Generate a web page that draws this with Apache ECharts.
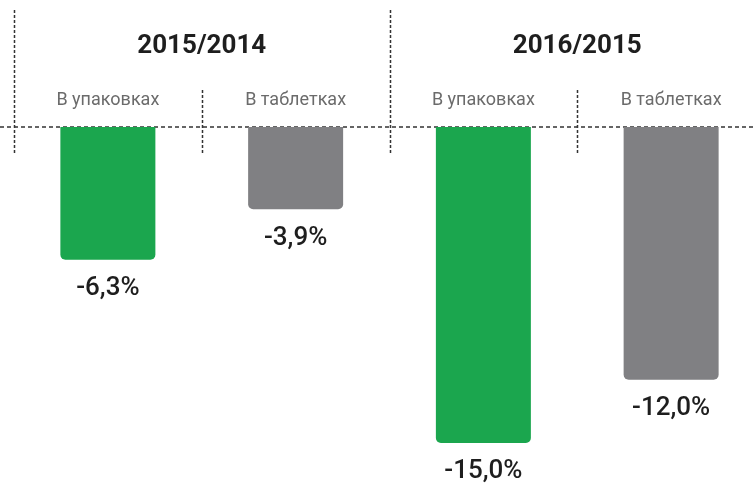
<!DOCTYPE html>
<html>
<head>
<meta charset="utf-8">
<script src="https://cdn.jsdelivr.net/npm/echarts@6/dist/echarts.min.js"></script>
<style>
  html, body { margin: 0; padding: 0; background: #fff; }
  #chart { width: 753px; height: 485px; }
</style>
</head>
<body>
<div id="chart"></div>
<script>
// данные
const periods = ['2015/2014', '2016/2015'];
const categories = ['В упаковках', 'В таблетках', 'В упаковках', 'В таблетках'];
const values = [-6.3, -3.9, -15.0, -12.0];
const barColors = ['#1ba64e', '#808083', '#1ba64e', '#808083'];

const chart = echarts.init(document.getElementById('chart'));

const options = {
  animation: false,
  grid: { left: 14, right: -12, top: 127, bottom: 21, outerBoundsMode: 'none' },
  xAxis: [
    {
      type: 'category',
      position: 'top',
      data: categories,
      axisLine: { show: false },
      axisTick: { show: false },
      axisLabel: {
        margin: 18,
        fontFamily: 'Roboto',
        fontSize: 18,
        color: '#6b6b6b'
      }
    },
    {
      type: 'category',
      position: 'top',
      offset: 68,
      data: periods,
      axisLine: { show: false },
      axisTick: { show: false },
      axisLabel: {
        margin: 0,
        fontFamily: 'Roboto',
        fontWeight: 'bold',
        fontSize: 26,
        color: '#1e1e1e'
      }
    }
  ],
  yAxis: {
    type: 'value',
    min: -16,
    max: 0,
    show: false
  },
  series: [
    {
      type: 'bar',
      barWidth: 95,
      data: values.map((v, i) => ({
        value: v,
        itemStyle: { color: barColors[i], borderRadius: [0, 0, 5, 5] }
      })),
      label: {
        show: true,
        position: 'bottom',
        distance: 16,
        fontFamily: 'Roboto',
        fontWeight: 500,
        fontSize: 26,
        color: '#1e1e1e',
        formatter: (p) => p.value.toFixed(1).replace('.', ',') + '%'
      }
    }
  ]
};

chart.setOption(options);

// пунктирные линии: нулевая линия и границы категорий
const y0 = chart.convertToPixel({ yAxisIndex: 0 }, 0);
const c0 = chart.convertToPixel({ xAxisIndex: 0 }, 0);
const c1 = chart.convertToPixel({ xAxisIndex: 0 }, 1);
const band = c1 - c0;
const lineStyle = { stroke: '#333', lineWidth: 1.5, lineDash: [3, 2] };
const graphics = [
  {
    type: 'line',
    shape: { x1: 0, y1: y0, x2: 753, y2: y0 },
    style: { stroke: '#333', lineWidth: 1.5, lineDash: [4, 3] }
  }
];
categories.forEach((c, i) => {
  const x = Math.round(c0 + band * i - band / 2) + 0.5;
  const tall = i % 2 === 0;
  graphics.push({
    type: 'line',
    shape: { x1: x, y1: tall ? 10 : 90, x2: x, y2: y0 + 28 },
    style: lineStyle
  });
});
chart.setOption({ graphic: graphics });
</script>
</body>
</html>
